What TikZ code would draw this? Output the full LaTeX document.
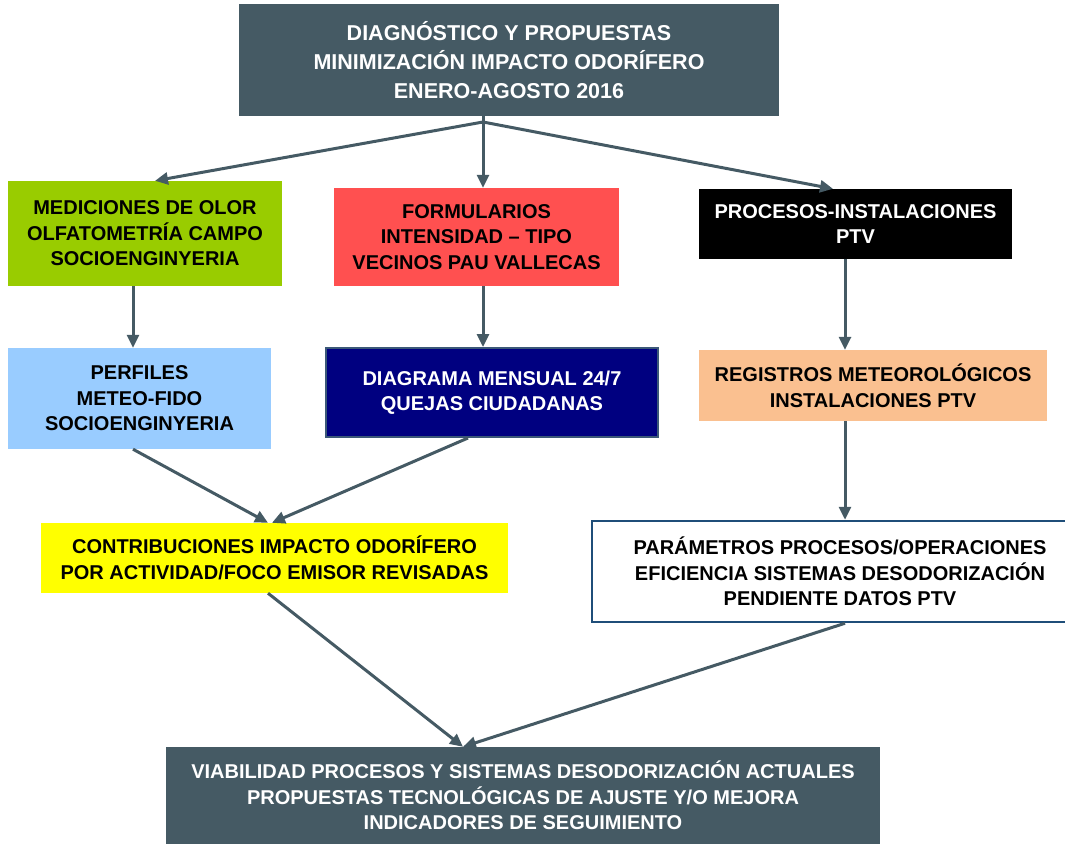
\documentclass[tikz,border=0pt]{standalone}
\usepackage{fontspec}
\setmainfont{Liberation Sans}
\usetikzlibrary{arrows.meta}
\definecolor{slate}{HTML}{455A64}
\definecolor{cgreen}{HTML}{99CC00}
\definecolor{cred}{HTML}{FF5050}
\definecolor{cblue}{HTML}{99CCFF}
\definecolor{cnavy}{HTML}{000080}
\definecolor{cnavyb}{HTML}{3B5878}
\definecolor{corange}{HTML}{FAC090}
\definecolor{cwhiteb}{HTML}{1F4E79}
\definecolor{cyellow}{HTML}{FFFF00}
\begin{document}
\begin{tikzpicture}[x=1pt,y=-1pt,
  box/.style={draw=none, inner sep=0pt, align=center, font=\fontsize{20}{25.5}\selectfont\bfseries},
  arr/.style={draw=slate, line width=3pt, -{Triangle[length=13pt,width=12pt]}}]
\useasboundingbox (0,0) rectangle (1065,844);
\node[box, fill=slate, text=white, minimum width=540pt, minimum height=112pt, font=\fontsize{21.5}{29}\selectfont\bfseries] (top) at (509,60) {DIAGNÓSTICO Y PROPUESTAS\\MINIMIZACIÓN IMPACTO ODORÍFERO\\ENERO-AGOSTO 2016};
\node[box, fill=cgreen, minimum width=274pt, minimum height=105pt] (green) at (145,233.5) {MEDICIONES DE OLOR\\OLFATOMETRÍA CAMPO\\SOCIOENGINYERIA};
\node[box, fill=cred, minimum width=285pt, minimum height=98pt] (red) at (476.5,237) {FORMULARIOS\\INTENSIDAD – TIPO\\VECINOS PAU VALLECAS};
\node[box, fill=black, text=white, minimum width=313pt, minimum height=70pt] (black) at (855.5,224) {PROCESOS-INSTALACIONES\\PTV};
\node[box, fill=cblue, minimum width=263pt, minimum height=101pt] (lblue) at (139.5,398.5) {PERFILES\\METEO-FIDO\\SOCIOENGINYERIA};
\node[box, fill=cnavy, draw=cnavyb, line width=2pt, text=white, minimum width=332pt, minimum height=89pt] (navy) at (492,392.5) {DIAGRAMA MENSUAL 24/7\\QUEJAS CIUDADANAS};
\node[box, fill=corange, minimum width=348pt, minimum height=71pt] (orange) at (873,385.5) {REGISTROS METEOROLÓGICOS\\INSTALACIONES PTV};
\node[box, fill=white, draw=cwhiteb, line width=2.5pt, minimum width=496pt, minimum height=101pt] (wbox) at (840,571.5) {PARÁMETROS PROCESOS/OPERACIONES\\EFICIENCIA SISTEMAS DESODORIZACIÓN\\PENDIENTE DATOS PTV};
\node[box, fill=cyellow, minimum width=467pt, minimum height=70pt] (yellow) at (274.5,558) {CONTRIBUCIONES IMPACTO ODORÍFERO\\POR ACTIVIDAD/FOCO EMISOR REVISADAS};
\node[box, fill=slate, text=white, minimum width=714pt, minimum height=97pt] (bottom) at (523,795.5) {VIABILIDAD PROCESOS Y SISTEMAS DESODORIZACIÓN ACTUALES\\PROPUESTAS TECNOLÓGICAS DE AJUSTE Y/O MEJORA\\INDICADORES DE SEGUIMIENTO};
\coordinate (fork) at (483,122);
\draw[arr] ([xshift=-26pt]top.south) -- ([xshift=6.5pt]red.north);
\draw[arr] (fork) -- ([xshift=10pt]green.north);
\draw[arr] (fork) -- ([xshift=-22.5pt]black.north);
\draw[arr] ([xshift=-12pt]green.south) -- ([xshift=-6.5pt]lblue.north);
\draw[arr] ([xshift=6.5pt]red.south) -- ([xshift=-9pt]navy.north);
\draw[arr] ([xshift=-10.5pt]black.south) -- ([xshift=-28pt]orange.north);
\draw[arr] ([xshift=-6.5pt]lblue.south) -- ([xshift=-6.5pt]yellow.north);
\draw[arr] ([xshift=-24pt]navy.south) -- ([xshift=-2.5pt]yellow.north);
\draw[arr] ([xshift=-28pt]orange.south) -- ([xshift=5pt]wbox.north);
\draw[arr] ([xshift=-6.5pt]yellow.south) -- ([xshift=-60pt]bottom.north);
\draw[arr] ([xshift=5pt]wbox.south) -- ([xshift=-60pt]bottom.north);
\end{tikzpicture}
\end{document}
